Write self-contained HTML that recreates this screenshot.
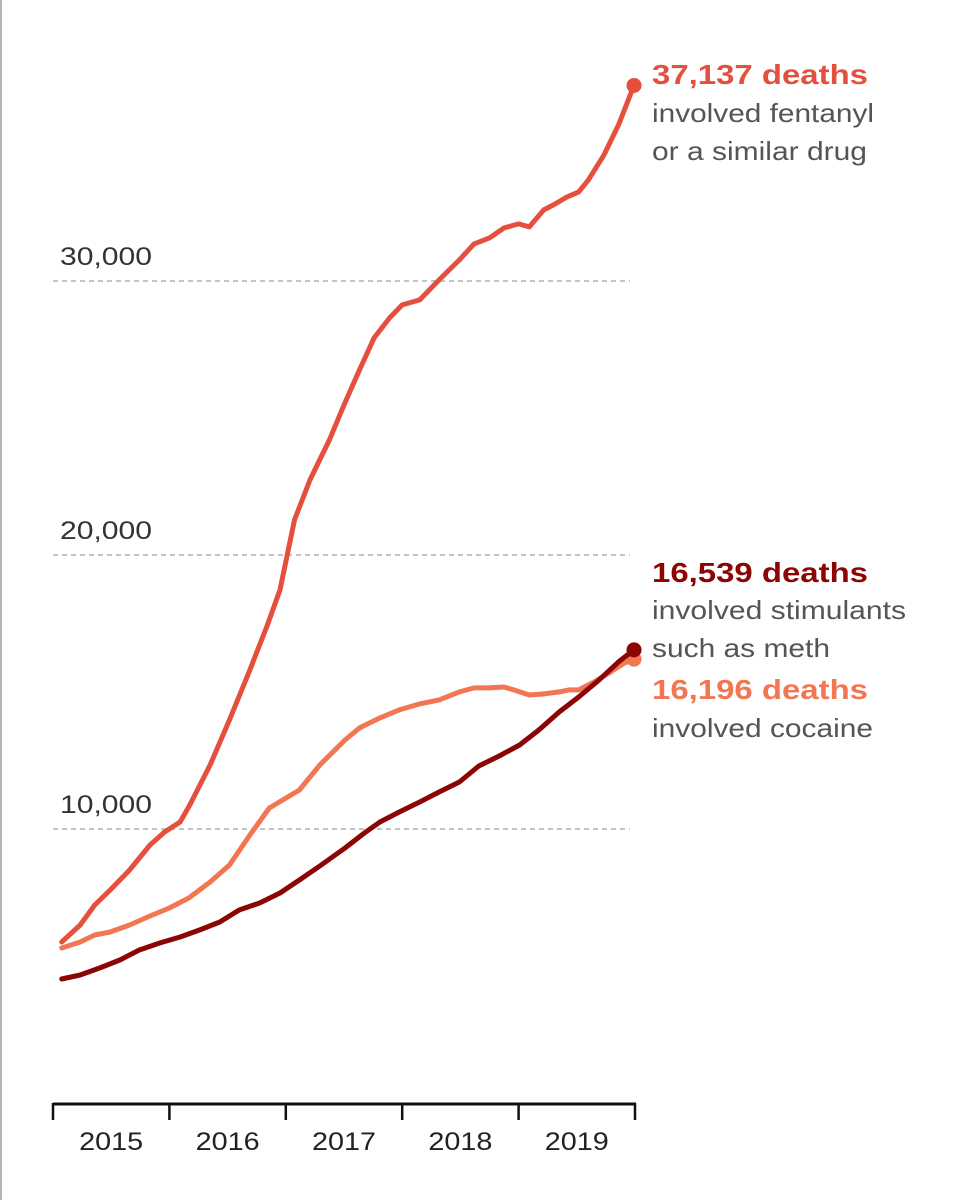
<!DOCTYPE html>
<html><head><meta charset="utf-8"><style>
html,body{margin:0;padding:0;background:#fff;}
svg{display:block;font-family:"Liberation Sans",sans-serif;}
</style></head><body>
<svg id="chart" width="953" height="1200" viewBox="0 0 953 1200">
<line x1="1" y1="0" x2="1" y2="1200" stroke="#b5b5b5" stroke-width="2"/>
<g id="grid"></g>
<g id="xaxis"></g>
<g id="series"></g>
<g>
<text x="652" y="84" font-size="28" font-weight="bold" fill="#e5503e" textLength="216" lengthAdjust="spacingAndGlyphs">37,137 deaths</text>
<text x="652" y="122" font-size="26" fill="#555" textLength="222" lengthAdjust="spacingAndGlyphs">involved fentanyl</text>
<text x="652" y="160" font-size="26" fill="#555" textLength="215" lengthAdjust="spacingAndGlyphs">or a similar drug</text>
<text x="652" y="582" font-size="28" font-weight="bold" fill="#8b0505" textLength="216" lengthAdjust="spacingAndGlyphs">16,539 deaths</text>
<text x="652" y="619" font-size="26" fill="#555" textLength="254" lengthAdjust="spacingAndGlyphs">involved stimulants</text>
<text x="652" y="657" font-size="26" fill="#555" textLength="178" lengthAdjust="spacingAndGlyphs">such as meth</text>
<text x="652" y="699" font-size="28" font-weight="bold" fill="#f27652" textLength="216" lengthAdjust="spacingAndGlyphs">16,196 deaths</text>
<text x="652" y="737" font-size="26" fill="#555" textLength="221" lengthAdjust="spacingAndGlyphs">involved cocaine</text>
</g>
</svg>
<script>
const yTicks = [10000, 20000, 30000];
const yTickLabels = ["10,000", "20,000", "30,000"];
const years = ["2015", "2016", "2017", "2018", "2019"];
const fentanylMonths = [0.9,2.8,4.3,5.9,7.9,10,11.5,13.1,14.1,16.2,18.2,20.3,22.1,23.4,24.9,26.5,28.5,30,31.6,33.1,34.7,36,37.8,39.8,41.9,43.4,45,46.5,48,49.1,50.6,51.6,53,54.2,55.2,56.8,58.3,59.9];
const fentanylValues = [5877,6497,7227,7775,8505,9417,9892,10257,10877,12337,13980,15805,17447,18725,21280,22740,24200,25477,26755,27923,28653,29127,29310,30040,30770,31354,31573,31938,32084,31975,32595,32777,33069,33252,33690,34602,35697,37137];
const cocaineMonths = [0.9,2.8,4.3,5.9,7.9,10,12,14,16.2,18.2,20.3,22.3,25.4,27.5,30.1,31.6,33.7,35.7,37.8,39.8,41.9,43.4,45,46.5,47.5,49.1,50.6,52.2,53.2,54.2,55.8,57.3,58.9,59.9];
const cocaineValues = [5658,5877,6132,6242,6497,6826,7118,7483,8067,8687,9782,10768,11425,12337,13250,13688,14053,14345,14564,14710,15002,15148,15148,15184,15075,14892,14929,15002,15075,15075,15367,15695,16060,16196];
const methMonths = [0.9,2.8,4.8,6.9,8.9,11,13.1,15.1,17.2,19.2,21.3,23.4,25.4,27.5,30.1,32.1,33.7,35.7,37.8,39.8,41.9,43.9,46,48.1,50.1,52.2,54.2,56.3,58.3,59.9];
const methValues = [4526,4672,4928,5220,5585,5840,6059,6315,6607,7045,7300,7665,8140,8651,9308,9855,10257,10622,10987,11352,11717,12301,12666,13067,13615,14272,14819,15440,16097,16539];

const NS = "http://www.w3.org/2000/svg";
const x0 = 53, monthW = (635 - 53) / 60;
function xScale(m){ return x0 + m * monthW; }
function yScale(v){ return 1103 - v * 274 / 10000; }
function mk(tag, attrs, parent){ const e = document.createElementNS(NS, tag); for (const k in attrs) e.setAttribute(k, attrs[k]); parent.appendChild(e); return e; }

const grid = document.getElementById('grid');
yTicks.forEach((v, i) => {
  const l = mk('line', {x1: 53, x2: 630, y1: yScale(v), y2: yScale(v), stroke: '#c4c4c4', 'stroke-width': 2, 'stroke-dasharray': '5 4'}, grid);
  
  
  const t = mk('text', {x: 60, y: yScale(v) - 16, 'font-size': 25, fill: '#333', textLength: 92, lengthAdjust: 'spacingAndGlyphs'}, grid);
  t.textContent = yTickLabels[i];
  
  
});

const xa = document.getElementById('xaxis');
const axl = mk('line', {x1: 53, x2: 636, y1: 1104, y2: 1104, stroke: '#111', 'stroke-width': 3}, xa);


for (let i = 0; i <= years.length; i++) {
  const x = xScale(i * 12);
  const tk = mk('line', {x1: x, x2: x, y1: 1103, y2: 1120, stroke: '#111', 'stroke-width': 2.5}, xa);
  
  
}
years.forEach((y, i) => {
  const t = mk('text', {x: xScale(i * 12 + 6) - 32, y: 1150, 'font-size': 25, fill: '#222', textLength: 64, lengthAdjust: 'spacingAndGlyphs'}, xa);
  t.textContent = y;
  
  
});

const sg = document.getElementById('series');
function drawSeries(months, vals, color, name){
  const d = months.map((m, i) => (i ? 'L' : 'M') + xScale(m).toFixed(1) + ' ' + yScale(vals[i]).toFixed(1)).join(' ');
  const p = mk('path', {d: d, fill: 'none', stroke: color, 'stroke-width': 5, 'stroke-linejoin': 'round', 'stroke-linecap': 'round'}, sg);
  
  
  const n = months.length - 1;
  const c = mk('circle', {cx: xScale(months[n]), cy: yScale(vals[n]), r: 7.5, fill: color}, sg);
  
  
}
drawSeries(cocaineMonths, cocaineValues, '#f27652', 'cocaine');
drawSeries(methMonths, methValues, '#8b0505', 'stimulants');
drawSeries(fentanylMonths, fentanylValues, '#e5503e', 'fentanyl');
</script>
</body></html>
